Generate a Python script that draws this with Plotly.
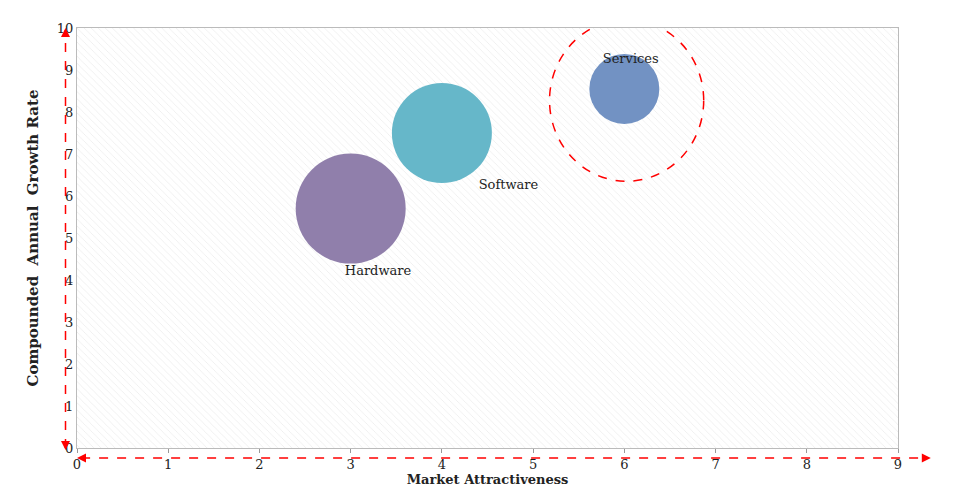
import plotly.graph_objects as go

segments = ["Hardware", "Software", "Services"]
attractiveness = [3, 4, 6]
growth = [5.7, 7.5, 8.55]
bubble_size = [110, 100, 70]
colors = ["#8a78a6", "#5eb3c6", "#6a8cc0"]
label_x = [3.3, 4.73, 6.07]
label_y = [4.2, 6.25, 9.25]

fig = go.Figure()

# hatched background
fig.add_trace(go.Bar(
    x=[4.5], y=[10], width=[9], hoverinfo="skip", showlegend=False,
    marker=dict(color="white", line_width=0,
                pattern=dict(shape="\\", fgcolor="#d8d8d8", bgcolor="white", size=5, solidity=0.15)),
))

fig.add_trace(go.Scatter(
    x=attractiveness, y=growth, mode="markers", showlegend=False,
    marker=dict(size=bubble_size, color=colors, opacity=0.95, line_width=0),
))
fig.add_trace(go.Scatter(
    x=label_x, y=label_y, mode="text", text=segments, showlegend=False,
    textfont=dict(family="DejaVu Serif", size=13, color="#222"),
))

# highlight circle around Services
fig.add_shape(type="circle", x0=5.18, x1=6.87, y0=6.35, y1=10.2,
              line=dict(color="red", width=1.5, dash="dash"))

# dashed axis arrows
red = dict(color="red", width=1.5, dash="dash")
fig.add_shape(type="line", xref="paper", yref="paper", x0=0.005, x1=1.035, y0=-0.024, y1=-0.024, line=red)
fig.add_shape(type="line", xref="paper", yref="paper", x0=-0.014, x1=-0.014, y0=0.0, y1=0.995, line=red)
heads = [(1.04, -0.024, -10, 0), (0.0, -0.024, 10, 0), (-0.014, 1.0, 0, 10), (-0.014, -0.005, 0, -10)]
for x, y, ax, ay in heads:
    fig.add_annotation(x=x, y=y, xref="paper", yref="paper", ax=ax, ay=ay,
                       showarrow=True, arrowhead=2, arrowsize=1.2, arrowwidth=1.5,
                       arrowcolor="red", text="")

fig.update_layout(
    width=954, height=493,
    margin=dict(l=69, r=64, t=20, b=53),
    paper_bgcolor="white", plot_bgcolor="white",
    font=dict(family="DejaVu Serif", size=13, color="#222"),
    bargap=0,
    xaxis=dict(range=[0, 9], dtick=1, showgrid=True, gridcolor="#dcdcdc",
               zeroline=False, showline=True, linecolor="#bbb", mirror=True,
               ticks="outside", ticklen=4, tickcolor="#999",
               title=dict(text="<b>Market Attractiveness</b>", font=dict(size=13), standoff=2)),
    yaxis=dict(range=[0, 10], dtick=1, showgrid=True, gridcolor="#dcdcdc",
               zeroline=False, showline=True, linecolor="#bbb", mirror=True,
               title=dict(text="<b>Compounded  Annual  Growth Rate</b>", font=dict(size=15), standoff=14)),
)

fig.write_html("out.html")
